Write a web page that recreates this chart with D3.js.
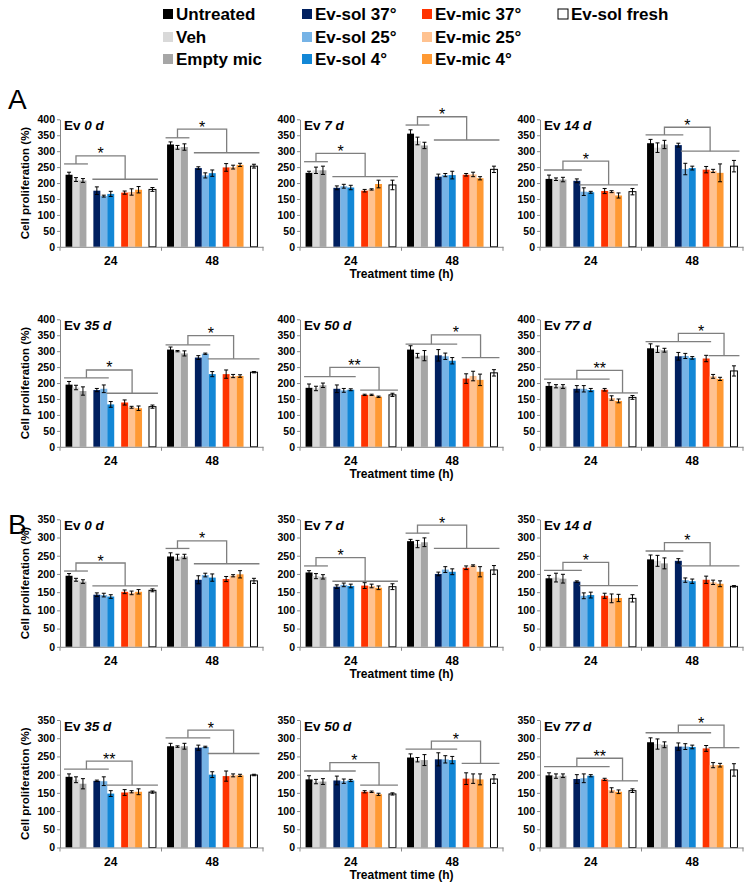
<!DOCTYPE html>
<html>
<head>
<meta charset="utf-8">
<script src="https://cdn.jsdelivr.net/npm/d3@7"></script>
<style>
body { margin: 0; background: #fff; }
svg text { font-family: "Liberation Sans", Arial, sans-serif; }
</style>
</head>
<body>
<div id="chart"></div>
<script>
// Series / categories
var series = ["Untreated", "Veh", "Empty mic", "Ev-sol 37°", "Ev-sol 25°", "Ev-sol 4°",
              "Ev-mic 37°", "Ev-mic 25°", "Ev-mic 4°", "Ev-sol fresh"];
var colors = ["#000000", "#d9d9d9", "#a6a6a6", "#002060", "#76b3e6", "#1287d6",
              "#ff3300", "#ffc290", "#ff9933", "#ffffff"];
var times = ["24", "48"];
var days = ["0", "7", "14", "35", "50", "77"];
var ticksA = [0, 50, 100, 150, 200, 250, 300, 350, 400];
var ticksB = [0, 50, 100, 150, 200, 250, 300, 350];

// Panel A means / errors, per day: [24 h, 48 h]
var meanA = [
  [[226,211,208,176,159,166,170,172,179,180], [321,312,313,247,224,231,249,250,257,253]],
  [[232,240,240,185,190,186,176,180,197,194], [355,332,318,220,225,225,226,227,215,243]],
  [[213,212,211,207,173,171,175,173,161,173], [325,311,321,319,244,247,242,238,232,253]],
  [[195,186,175,178,182,133,139,124,121,126], [305,300,293,280,292,228,228,222,222,234]],
  [[185,183,193,182,177,179,163,163,157,163], [305,286,286,287,284,270,214,222,210,232]],
  [[191,190,189,182,182,178,179,153,144,155], [309,306,303,284,285,279,277,221,213,238]]
];
var errA = [
  [[8,6,6,12,3,8,5,10,10,6], [8,6,10,4,8,10,12,6,5,6]],
  [[5,10,13,6,6,7,4,2,12,15], [12,12,10,8,5,12,4,7,5,10]],
  [[12,4,7,6,12,3,8,3,8,10], [12,15,13,6,18,6,10,5,28,18]],
  [[10,7,13,5,12,9,8,3,7,5], [8,2,8,6,2,8,13,5,4,2]],
  [[12,7,7,12,6,3,2,2,2,5], [12,7,16,18,10,10,15,15,18,10]],
  [[10,5,6,10,10,5,4,7,6,6], [14,10,6,12,8,4,10,6,5,16]]
];

// Panel B means / errors
var meanB = [
  [[195,184,179,143,142,138,151,148,151,155], [248,246,248,184,197,190,186,195,199,181]],
  [[204,194,192,165,170,167,168,167,162,165], [290,282,287,200,212,206,217,223,206,211]],
  [[188,190,187,179,140,142,140,133,134,133], [240,236,229,236,183,180,184,177,173,166]],
  [[194,186,175,183,182,148,151,153,153,152], [278,277,278,274,276,200,196,198,198,199]],
  [[187,181,181,184,182,184,153,153,146,147], [247,241,240,242,242,240,189,189,187,188]],
  [[198,196,197,188,190,197,187,158,153,156], [289,284,282,277,277,276,272,226,226,213]]
];
var errB = [
  [[6,4,5,5,5,5,5,5,6,4], [10,8,6,11,5,10,7,3,10,7]],
  [[5,7,6,5,5,5,8,5,5,8], [5,10,12,5,8,8,5,2,14,12]],
  [[8,12,12,2,8,8,7,12,10,10], [12,15,15,6,6,6,10,6,8,2]],
  [[8,8,14,2,12,8,8,3,8,3], [8,2,8,7,2,8,14,4,3,2]],
  [[10,6,8,12,6,3,3,2,3,3], [10,6,15,18,10,10,16,13,15,12]],
  [[7,6,5,12,12,3,3,6,5,5], [12,14,8,10,8,5,8,7,5,17]]
];

// significance brackets: [leftFrom, leftTo, rightFrom, rightTo, yLeft, yRight, yTop, label]
var bracketA = [
  [[0,2,3,9,260,212,285,"*"], [0,2,3,9,342,295,369,"*"]],
  [[0,2,3,9,267,220,293,"*"], [0,2,3,9,382,335,408,"*"]],
  [[0,3,4,9,241,194,269,"*"], [0,3,4,9,351,300,375,"*"]],
  [[0,4,5,9,216,168,241,"*"], [0,4,5,9,320,276,349,"*"]],
  [[0,5,6,9,220,178,249,"**"], [0,5,6,9,322,280,351,"*"]],
  [[0,6,7,9,212,169,240,"**"], [0,6,7,9,330,286,356,"*"]]
];
var bracketB = [
  [[0,2,3,9,208,167,230,"*"], [0,2,3,9,270,228,291,"*"]],
  [[0,2,3,9,222,180,245,"*"], [0,2,3,9,312,270,334,"*"]],
  [[0,3,4,9,210,168,232,"*"], [0,3,4,9,263,222,286,"*"]],
  [[0,4,5,9,215,171,237,"**"], [0,4,5,9,301,258,322,"*"]],
  [[0,5,6,9,210,171,233,"*"], [0,5,6,9,270,231,292,"*"]],
  [[0,6,7,9,222,183,245,"**"], [0,6,7,9,315,274,336,"*"]]
];

var svgWidth = 753, svgHeight = 891;
var plotW = 203, plotH = 127.5;
var colX = [60, 300, 540];
var rowTop = [119.3, 319.3, 519.3, 720];
var axisColor = "#878787";

var svg = d3.select("#chart").append("svg")
  .attr("width", svgWidth)
  .attr("height", svgHeight);

// Legend
var legend = svg.append("g");
var legX = [163, 302, 422, 558];
series.forEach(function(name, i) {
  var cx = legX[Math.floor(i / 3)], cy = [14, 37, 59][i % 3];
  legend.append("rect")
    .attr("x", cx).attr("y", cy - 5)
    .attr("width", 10).attr("height", 10)
    .attr("fill", colors[i])
    .attr("stroke", i === 9 ? "#000" : "none")
    .attr("stroke-width", 1);
  legend.append("text")
    .attr("x", cx + 13).attr("y", cy)
    .attr("dy", "0.36em")
    .style("font-size", "17px").style("font-weight", "bold")
    .text(name);
});

svg.append("text").attr("x", 8).attr("y", 109).style("font-size", "28px").text("A");
svg.append("text").attr("x", 8).attr("y", 534).style("font-size", "28px").text("B");

var slotOf = [0, 1, 2, 4, 5, 6, 8, 9, 10, 12];

function drawPanel(px, py, means, errs, brs, yMax, yTicks, day, withYLabel, withXTitle) {
  var g = svg.append("g").attr("transform", `translate(${px}, ${py})`);

  var x0 = d3.scaleBand().domain(times).range([0, plotW]);
  var x1 = d3.scaleBand().domain(d3.range(13)).range([0, x0.bandwidth()]).paddingOuter(0.8);
  var y = d3.scaleLinear().domain([0, yMax]).range([plotH, 0]);
  var bw = x1.bandwidth();

  function xs(t, s) { return x0(times[t]) + x1(slotOf[s]); }

  // bars
  times.forEach(function(t, ti) {
    var grp = g.append("g");
    grp.selectAll("rect")
      .data(means[ti])
      .enter()
      .append("rect")
      .attr("x", (d, si) => xs(ti, si))
      .attr("y", d => y(d))
      .attr("width", bw)
      .attr("height", d => plotH - y(d))
      .attr("fill", (d, si) => colors[si])
      .attr("stroke", (d, si) => si === 9 ? "#000" : "none")
      .attr("stroke-width", 1);

    // error bars
    var eb = g.append("g").attr("stroke", "#000").attr("stroke-width", 1);
    means[ti].forEach(function(m, si) {
      var cx = xs(ti, si) + bw / 2, e = errs[ti][si];
      eb.append("line").attr("x1", cx).attr("x2", cx).attr("y1", y(m - e)).attr("y2", y(m + e));
      eb.append("line").attr("x1", cx - 2).attr("x2", cx + 2).attr("y1", y(m - e)).attr("y2", y(m - e));
      eb.append("line").attr("x1", cx - 2).attr("x2", cx + 2).attr("y1", y(m + e)).attr("y2", y(m + e));
    });

    // significance bracket
    var b = brs[ti];
    var l0 = xs(ti, b[0]) - 1.5, l1 = xs(ti, b[1]) + bw + 1.5;
    var r0 = xs(ti, b[2]) - 1, r1 = xs(ti, b[3]) + bw + 2;
    var lm = (l0 + l1) / 2, rm = (r0 + r1) / 2;
    var bg = g.append("g").attr("stroke", "#7f7f7f").attr("stroke-width", 1.3).attr("fill", "none");
    bg.append("line").attr("x1", l0).attr("x2", l1).attr("y1", y(b[4])).attr("y2", y(b[4]));
    bg.append("line").attr("x1", r0).attr("x2", r1).attr("y1", y(b[5])).attr("y2", y(b[5]));
    bg.append("path").attr("d", `M${lm},${y(b[4])}V${y(b[6])}H${rm}V${y(b[5])}`);
    g.append("text")
      .attr("x", (lm + rm) / 2).attr("y", y(b[6]) + 3.5)
      .attr("text-anchor", "middle")
      .style("font-size", "16px")
      .text(b[7]);
  });

  // y axis
  var yAxis = g.append("g")
    .call(d3.axisLeft(y).tickValues(yTicks).tickSize(3).tickSizeOuter(0).tickPadding(2));
  yAxis.select(".domain").attr("stroke", axisColor);
  yAxis.selectAll(".tick line").attr("stroke", axisColor);
  yAxis.selectAll("text").style("font-size", "10.5px").style("font-weight", "bold").attr("fill", "#000");

  // x axis
  var xAxis = g.append("g")
    .attr("transform", `translate(0, ${plotH})`)
    .call(d3.axisBottom(x0).tickSize(0).tickPadding(9.5));
  xAxis.select(".domain").attr("stroke", axisColor);
  xAxis.selectAll("text").style("font-size", "12px").style("font-weight", "bold").attr("fill", "#000");
  [0, x0.bandwidth(), plotW].forEach(function(v) {
    xAxis.append("line").attr("x1", v).attr("x2", v).attr("y1", 0).attr("y2", 4).attr("stroke", axisColor);
  });

  // title
  var title = g.append("text")
    .attr("x", 4).attr("y", 10.5)
    .style("font-size", "13.5px").style("font-weight", "bold");
  title.append("tspan").text("Ev ");
  title.append("tspan").style("font-style", "italic").text(day + " d");

  if (withYLabel) {
    g.append("text")
      .attr("transform", "rotate(-90)")
      .attr("x", -plotH / 2).attr("y", -35)
      .attr("dy", "0.35em")
      .attr("text-anchor", "middle")
      .style("font-size", "11.5px").style("font-weight", "bold")
      .text("Cell proliferation (%)");
  }
  if (withXTitle) {
    g.append("text")
      .attr("x", plotW / 2).attr("y", plotH + 31)
      .attr("text-anchor", "middle")
      .style("font-size", "12px").style("font-weight", "bold")
      .text("Treatment time (h)");
  }
}

days.forEach(function(day, i) {
  var col = i % 3, row = Math.floor(i / 3);
  drawPanel(colX[col], rowTop[row], meanA[i], errA[i], bracketA[i], 400, ticksA, day, col === 0, col === 1);
  drawPanel(colX[col], rowTop[row + 2], meanB[i], errB[i], bracketB[i], 350, ticksB, day, col === 0, col === 1);
});
</script>
</body>
</html>
